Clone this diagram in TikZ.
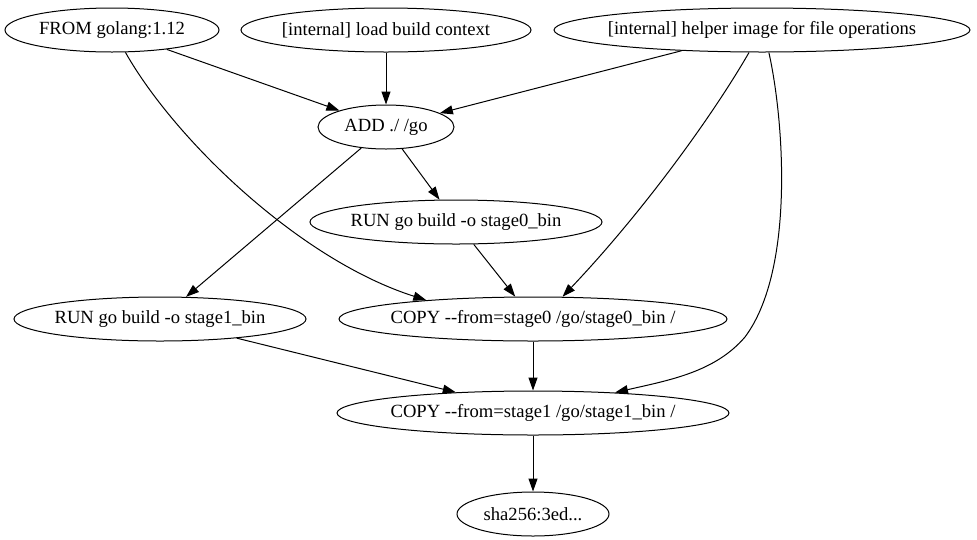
\documentclass[tikz,border=0pt]{standalone}
\usepackage{fontspec}
\setmainfont{Liberation Serif}
\usetikzlibrary{shapes.geometric,arrows.meta}
\newcommand\nodetxt[1]{\makebox[0pt]{#1}}
\begin{document}
\begin{tikzpicture}[x=1pt,y=-1pt,
  n/.style={draw,ellipse,inner sep=0pt,minimum height=44pt,line width=1pt,font=\fontsize{18.6}{22}\selectfont},
  e/.style={-{Triangle[length=13pt,width=9pt]},line width=1pt}]
\useasboundingbox (0,0) rectangle (977,539);
\node[n,minimum width=214pt] (from) at (112,30) {\nodetxt{FROM golang:1.12}};
\node[n,minimum width=290pt] (load) at (386,30) {\nodetxt{[internal] load build context}};
\node[n,minimum width=416pt] (helper) at (762,30) {\nodetxt{[internal] helper image for file operations}};
\node[n,minimum width=136pt] (add) at (386,127) {\nodetxt{ADD ./ /go}};
\node[n,minimum width=292pt] (run0) at (456,222) {\nodetxt{RUN go build -o stage0\_bin}};
\node[n,minimum width=292pt] (run1) at (160,319) {\nodetxt{RUN go build -o stage1\_bin}};
\node[n,minimum width=388pt] (copy0) at (533,319) {\nodetxt{COPY -{}-from=stage0 /go/stage0\_bin /}};
\node[n,minimum width=392pt] (copy1) at (533,413) {\nodetxt{COPY -{}-from=stage1 /go/stage1\_bin /}};
\node[n,minimum width=152pt] (sha) at (533,514) {\nodetxt{sha256:3ed...}};
\draw[e] (from) -- (add);
\draw[e] (load) -- (add);
\draw[e] (helper) -- (add);
\draw[e] (add) -- (run0);
\draw[e] (add) -- (run1);
\draw[e] (run0) -- (copy0);
\draw[e] (run1.-14) -- (copy1.165);
\draw[e] (copy0) -- (copy1);
\draw[e] (copy1) -- (sha);
\draw[e] (from.-59) .. controls (175,140) and (300,260) .. (copy0.170);
\draw[e] (helper.240) .. controls (710,120) and (640,215) .. (copy0.37);
\draw[e] (helper.-73) .. controls (784,120) and (795,270) .. (745,337) .. controls (715,372) and (670,380) .. (copy1.14);
\end{tikzpicture}
\end{document}
